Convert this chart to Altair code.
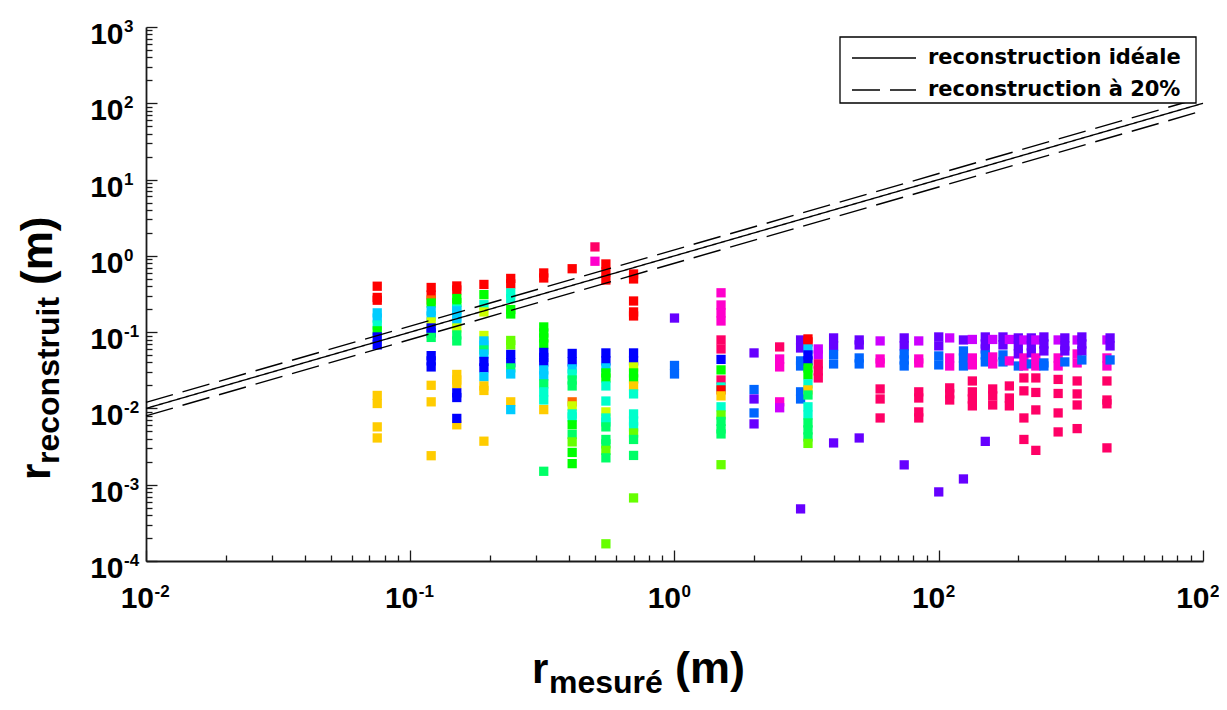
import altair as alt
import pandas as pd

alt.data_transformers.disable_max_rows()

# ---------------- colours of the markers (hue codes) ----------------
PALETTE = {
    "R": "#ff0000", "O": "#ff6600", "Y": "#ffcc00", "YG": "#ccff00",
    "L": "#66ff00", "G": "#00ff00", "SG": "#00ff66", "AQ": "#00ffcc",
    "LB": "#00ccff", "AZ": "#0066ff", "B": "#0000ff", "V": "#6600ff",
    "P": "#cc00ff", "M": "#ff00cc", "PR": "#ff0066",
}

# ---------------- data ----------------
column_x = [0.075, 0.12, 0.15, 0.19, 0.24, 0.32, 0.41, 0.5, 0.55, 0.7,
            1.0, 1.5, 2.0, 2.5, 3.0, 3.2, 3.5, 4.0, 5.0, 6.0, 7.4, 8.4,
            10, 11, 12.4, 13.4, 15, 16, 17.5, 18.5, 20, 21, 22.4, 23.3,
            25, 28.3, 30, 33.4, 34.8, 43.3, 44.5]

column_y = [
    [0.40, 0.285, 0.262, 0.179, 0.153, 0.124, 0.104, 0.0865, 0.068, 0.0148, 0.0116, 0.00573, 0.0041],
    [0.385, 0.307, 0.264, 0.241, 0.19, 0.163, 0.136, 0.1135, 0.0976, 0.0853, 0.0492, 0.042, 0.035, 0.0201, 0.0122, 0.0024],
    [0.403, 0.357, 0.276, 0.245, 0.201, 0.19, 0.158, 0.14, 0.1135, 0.092, 0.0767, 0.0279, 0.0236, 0.021, 0.016, 0.0139, 0.0061, 0.0074],
    [0.422, 0.31, 0.229, 0.184, 0.0905, 0.0767, 0.068, 0.0584, 0.0518, 0.0413, 0.034, 0.026, 0.0197, 0.0172, 0.00372],
    [0.506, 0.428, 0.327, 0.275, 0.198, 0.173, 0.0778, 0.068, 0.051, 0.0397, 0.034, 0.0283, 0.0122, 0.00965],
    [0.597, 0.513, 0.117, 0.0976, 0.084, 0.070, 0.0542, 0.0466, 0.0407, 0.032, 0.0267, 0.021, 0.0165, 0.0129, 0.00965, 0.0015],
    [0.678, 0.0526, 0.0407, 0.033, 0.0283, 0.0236, 0.0197, 0.0122, 0.0108, 0.00847, 0.00774, 0.0061, 0.00456, 0.00364, 0.00265, 0.00189],
    [1.31, 0.85],
    [0.783, 0.615, 0.483, 0.0534, 0.042, 0.034, 0.0292, 0.0251, 0.0197, 0.0125, 0.009, 0.0075, 0.00665, 0.00573, 0.00392, 0.00343, 0.00282, 0.00225, 0.000168],
    [0.579, 0.498, 0.256, 0.184, 0.163, 0.0534, 0.042, 0.035, 0.0292, 0.0244, 0.0197, 0.0155, 0.00847, 0.00686, 0.00573, 0.00477, 0.00392, 0.00242, 0.000671],
    [0.153, 0.0366, 0.0283],
    [0.328, 0.227, 0.179, 0.14, 0.079, 0.0602, 0.0439, 0.032, 0.0236, 0.0191, 0.0175, 0.0146, 0.0105, 0.0082, 0.00676, 0.00539, 0.00463, 0.00183],
    [0.0534, 0.0177, 0.0133, 0.00873, 0.00627],
    [0.064, 0.0445, 0.035, 0.0122, 0.0102],
    [0.079, 0.062, 0.042, 0.036, 0.0165, 0.0133, 0.000482],
    [0.0815, 0.0745, 0.0602, 0.0503, 0.042, 0.034, 0.0275, 0.021, 0.0175, 0.015, 0.0105, 0.0082, 0.00646, 0.00523, 0.00423, 0.00348],
    [0.0602, 0.0503, 0.0383, 0.031, 0.0251],
    [0.084, 0.066, 0.051, 0.0383, 0.00353],
    [0.079, 0.068, 0.0459, 0.0383, 0.0041],
    [0.0767, 0.0445, 0.0395, 0.018, 0.0133, 0.0075],
    [0.084, 0.066, 0.0518, 0.0432, 0.036, 0.00182],
    [0.0767, 0.0445, 0.0395, 0.0165, 0.0137, 0.009, 0.0075],
    [0.0865, 0.066, 0.0488, 0.0372, 0.000805],
    [0.084, 0.0459, 0.036, 0.0186, 0.0155, 0.0129],
    [0.079, 0.0567, 0.0459, 0.036, 0.00119],
    [0.0802, 0.0459, 0.0372, 0.0229, 0.0165, 0.0133, 0.0108],
    [0.0865, 0.070, 0.0602, 0.0503, 0.0407, 0.0037],
    [0.0802, 0.0473, 0.0383, 0.018, 0.0146, 0.0111],
    [0.0865, 0.068, 0.0503, 0.0407],
    [0.0802, 0.042, 0.0197, 0.0137, 0.0108],
    [0.084, 0.066, 0.0518, 0.036],
    [0.079, 0.0459, 0.036, 0.0251, 0.017, 0.0075, 0.00392],
    [0.084, 0.066, 0.0534, 0.0383],
    [0.079, 0.0459, 0.036, 0.0251, 0.0162, 0.00956, 0.00282],
    [0.0865, 0.070, 0.0567, 0.0395, 0.036],
    [0.079, 0.0459, 0.036, 0.024, 0.0157, 0.00873, 0.00492],
    [0.084, 0.066, 0.0567, 0.0407],
    [0.079, 0.0518, 0.0395, 0.0229, 0.0155, 0.0111, 0.00544],
    [0.0865, 0.070, 0.0567, 0.0432],
    [0.079, 0.0459, 0.036, 0.0229, 0.0129, 0.0115, 0.00304],
    [0.084, 0.066, 0.0432],
]

column_c = [
    "R R R LB LB AQ G B B Y Y Y Y",
    "R R O G LB LB YG B B SG B B B Y Y Y",
    "R R G G AQ LB LB LB YG SG SG Y Y Y B B Y B",
    "R G AQ YG YG LB LB SG LB B B LB Y Y Y",
    "R R AQ AQ G G L L B B SG LB Y LB",
    "R R G G G G B B B LB LB SG AQ AQ Y SG",
    "R B B LB AQ SG SG O YG AQ AQ G SG L G G",
    "PR M",
    "R R R B B LB G G AQ AQ YG AQ AQ SG SG SG L SG L",
    "R R R R R B B YG G G Y AQ AQ AQ AQ L SG SG L",
    "V AZ AZ",
    "M M M M PR PR B G PR AQ R Y AQ L SG SG SG L",
    "V AZ V AZ V",
    "PR M M M P",
    "V V AZ AZ AZ AZ V",
    "R R LB B B G G AQ Y SG AQ AQ SG SG SG L",
    "P P PR PR PR",
    "V V AZ AZ V",
    "V V AZ AZ V",
    "P M M PR PR PR",
    "V V AZ AZ AZ V",
    "P M M PR PR PR PR",
    "V V AZ AZ V",
    "P M M PR PR PR",
    "V AZ AZ AZ V",
    "P M M PR PR PR PR",
    "V V V AZ AZ V",
    "P M M PR PR PR",
    "V V AZ AZ",
    "P M PR PR PR",
    "V V V AZ",
    "P M M PR PR PR PR",
    "V V V AZ",
    "P M M PR PR PR PR",
    "V V V AZ AZ",
    "P M M PR PR PR PR",
    "V V V AZ",
    "P M M PR PR PR PR",
    "V V V AZ",
    "P M M PR PR PR PR",
    "V V AZ",
]

# reference lines: ideal (y = x) and +/-20 %
IDEAL = "reconstruction idéale"
PCT = "reconstruction à 20%"
line_x = [0.01, 100]
ideal_y = [0.01, 100]
upper_y = [0.012, 120]
lower_y = [0.008, 80]

# axis ticks / labels
x_major = [0.01, 0.1, 1, 10, 100]
y_major = [1e-4, 1e-3, 1e-2, 1e-1, 1, 10, 100, 1000]
x_label_exp = ["-2", "-1", "0", "2", "2"]
y_label_exp = ["-4", "-3", "-2", "-1", "0", "1", "2", "3"]
x_minor = [k * 10.0 ** d for d in range(-2, 2) for k in range(2, 10)]
y_minor = [k * 10.0 ** d for d in range(-4, 3) for k in range(2, 10)]

# ---------------- tables ----------------
rows = []
for x, ys, cs in zip(column_x, column_y, column_c):
    for y, c in zip(ys, cs.split()):
        rows.append({"x": x, "y": y, "c": PALETTE[c]})
pts = pd.DataFrame(rows)

lrows = []
for name, kind, yy in [("a", IDEAL, ideal_y), ("b", PCT, upper_y), ("c", PCT, lower_y)]:
    for x, y in zip(line_x, yy):
        lrows.append({"x": x, "y": y, "kind": kind, "id": name})
lines = pd.DataFrame(lrows)

xlab = pd.DataFrame({"v": x_major, "e": x_label_exp})
ylab = pd.DataFrame({"v": y_major, "e": y_label_exp})
one = pd.DataFrame({"k": [0]})

# ---------------- layout ----------------
W, H = 1057, 534
FONT = "Liberation Sans"
AXC = "#1a1a1a"

xscale = alt.Scale(type="log", domain=[0.01, 100], nice=False)
yscale = alt.Scale(type="log", domain=[1e-4, 1e3], nice=False)


def axis_domain(orient):
    return alt.Axis(orient=orient, domain=True, domainColor=AXC, domainWidth=1.8,
                    ticks=False, labels=False, grid=False, title=None)


def axis_ticks(orient, values, size):
    return alt.Axis(orient=orient, values=values, domain=False, ticks=True,
                    tickSize=size, tickWidth=1.3, tickColor=AXC, offset=-size,
                    labels=False, grid=False, title=None)


minor_layer = alt.Chart(pts).mark_square(opacity=0).encode(
    x=alt.X("x:Q", scale=xscale, axis=axis_ticks("bottom", x_minor, 6)),
    y=alt.Y("y:Q", scale=yscale, axis=axis_ticks("left", y_minor, 6)),
)

pt_layer = alt.Chart(pts).mark_square(size=86, opacity=1, filled=True).encode(
    x=alt.X("x:Q", scale=xscale, axis=axis_ticks("bottom", x_major, 11)),
    y=alt.Y("y:Q", scale=yscale, axis=axis_ticks("left", y_major, 11)),
    color=alt.Color("c:N", scale=None),
)

line_layer = alt.Chart(lines).mark_line(color="black", strokeWidth=1.4).encode(
    x=alt.X("x:Q", scale=xscale, axis=axis_domain("bottom")),
    y=alt.Y("y:Q", scale=yscale, axis=axis_domain("left")),
    strokeDash=alt.StrokeDash("kind:N", scale=alt.Scale(domain=[IDEAL, PCT], range=[[1, 0], [28, 10]]),
                              legend=None),
    detail="id:N",
)

# tick labels "10" + exponent
label_layers = []
for cond, shift in [("indexof(datum.e, '-') >= 0", 8), ("indexof(datum.e, '-') < 0", 6.5)]:
    b = alt.Chart(xlab).transform_filter(cond)
    label_layers.append(b.mark_text(text="10", font=FONT, fontSize=30, fontWeight="bold", align="right",
                                    baseline="alphabetic", dx=shift, color="black").encode(
        x=alt.X("v:Q", scale=xscale, axis=None), y=alt.value(H + 47)))
    label_layers.append(b.mark_text(font=FONT, fontSize=17, fontWeight="bold", align="left",
                                    baseline="alphabetic", dx=shift + 0.5, color="black").encode(
        x=alt.X("v:Q", scale=xscale, axis=None), y=alt.value(H + 36), text="e:N"))

label_layers.append(alt.Chart(ylab).mark_text(text="10", font=FONT, fontSize=30, fontWeight="bold", align="right",
                                              baseline="alphabetic", dy=17, color="black").encode(
    y=alt.Y("v:Q", scale=yscale, axis=None), x=alt.value(-22.5)))
label_layers.append(alt.Chart(ylab).mark_text(font=FONT, fontSize=17, fontWeight="bold", align="left",
                                              baseline="alphabetic", dy=5, color="black").encode(
    y=alt.Y("v:Q", scale=yscale, axis=None), x=alt.value(-22), text="e:N"))


def txt(t, x, y, size, angle=None):
    kw = dict(text=t, font=FONT, fontSize=size, fontWeight="bold", align="left",
              baseline="alphabetic", color="black")
    if angle is not None:
        kw["angle"] = angle
    return alt.Chart(one).mark_text(**kw).encode(x=alt.value(x), y=alt.value(y))


title_layers = [
    txt("r", 386, 656, 42),
    txt("mesuré", 403, 666, 32),
    txt("(m)", 529, 656, 45),
    txt("r", -96, 453, 42, 270),
    txt("reconstruit", -87, 437, 32, 270),
    txt("(m)", -94, 258, 44, 270),
]

# manual legend box
LEG_FONT = "DejaVu Sans"
legend_layers = [
    alt.Chart(one).mark_rect(fill="white", stroke="black", strokeWidth=1.3).encode(
        x=alt.value(694), x2=alt.value(1050), y=alt.value(10), y2=alt.value(76)),
    alt.Chart(one).mark_rule(color="black", strokeWidth=1.3).encode(
        x=alt.value(706), x2=alt.value(770), y=alt.value(31)),
    alt.Chart(one).mark_rule(color="black", strokeWidth=1.3, strokeDash=[28, 10]).encode(
        x=alt.value(706), x2=alt.value(770), y=alt.value(63)),
    alt.Chart(one).mark_text(text=IDEAL, font=LEG_FONT, fontSize=21, fontWeight="bold", align="left",
                             baseline="middle", color="black").encode(x=alt.value(782), y=alt.value(31)),
    alt.Chart(one).mark_text(text=PCT, font=LEG_FONT, fontSize=21, fontWeight="bold", align="left",
                             baseline="middle", color="black").encode(x=alt.value(782), y=alt.value(63)),
]

chart = alt.layer(
    minor_layer, pt_layer, line_layer, *label_layers, *title_layers, *legend_layers
).resolve_axis(x="independent", y="independent").properties(
    width=W, height=H,
    autosize=alt.AutoSizeParams(type="none"),
    padding={"left": 138, "top": 19, "right": 16, "bottom": 140},
).configure_view(stroke=None)

chart.save("out.html", embed_options={"renderer": "svg", "actions": False})
